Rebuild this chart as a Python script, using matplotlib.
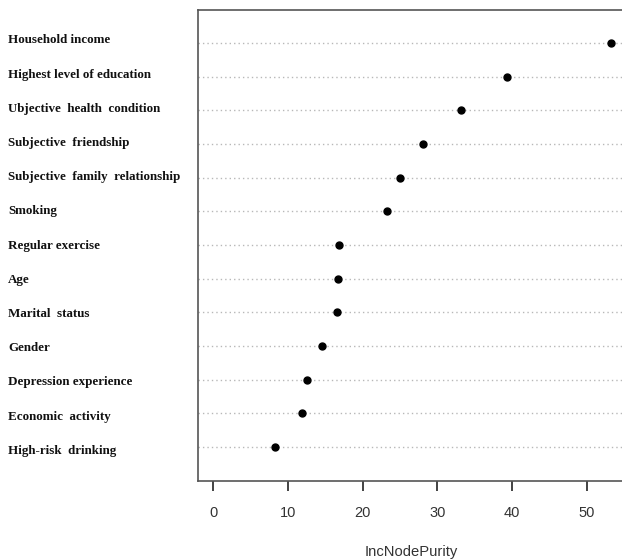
import matplotlib
matplotlib.use("Agg")
import matplotlib.pyplot as plt

variables = [
    "Household income",
    "Highest level of education",
    "Ubjective  health  condition",
    "Subjective  friendship",
    "Subjective  family  relationship",
    "Smoking",
    "Regular exercise",
    "Age",
    "Marital  status",
    "Gender",
    "Depression experience",
    "Economic  activity",
    "High-risk  drinking",
]
importance = [53.2, 39.35, 33.1, 28.0, 25.0, 23.25, 16.85, 16.67, 16.48, 14.56, 12.51, 11.88, 8.26]
xticks = [0, 10, 20, 30, 40, 50]
xlabel = "IncNodePurity"

W, H = 622, 559
fig = plt.figure(figsize=(W / 100, H / 100), dpi=100)
left, right, top, bottom = 197.5, 626.7, 9.5, 480.7
ax = fig.add_axes([left / W, 1 - bottom / H, (right - left) / W, (bottom - top) / H])

n = len(variables)
ypos = list(range(n, 0, -1))

for y in ypos:
    ax.axhline(y, color="#b8b8b8", linestyle=(0, (1, 2.2)), linewidth=1.0, zorder=1)
ax.plot(importance, ypos, "o", color="black", markersize=5, zorder=3, linestyle="none")

ax.set_xlim(-0.04 * max(importance), 1.04 * max(importance))
ax.set_ylim(0, n + 1)
ax.set_yticks([])
ax.set_xticks(xticks)
ax.set_xticklabels([str(t) for t in xticks], fontsize=10.5, color="#333333",
                   family=["Liberation Sans", "DejaVu Sans"])
ax.tick_params(axis="x", length=7.5, width=1.2, pad=11, color="#222222")
for s in ax.spines.values():
    s.set_color("#555555")
    s.set_linewidth(1.2)

# label column (baseline positions in pixels, slightly wider spacing than rows)
base0, step = 43.3, 34.22
for i, lab in enumerate(variables):
    fig.text(8 / W, 1 - (base0 + i * step) / H, lab, ha="left", va="baseline",
             fontsize=9.4, fontweight="bold", family=["Liberation Serif", "DejaVu Serif"],
             color="#111111")

fig.text((365 + 457.7) / 2 / W, 1 - 552 / H, xlabel, ha="center", va="center",
         fontsize=10.6, color="#333333", family=["Liberation Sans", "DejaVu Sans"])

fig.savefig("out.png", dpi=100)
